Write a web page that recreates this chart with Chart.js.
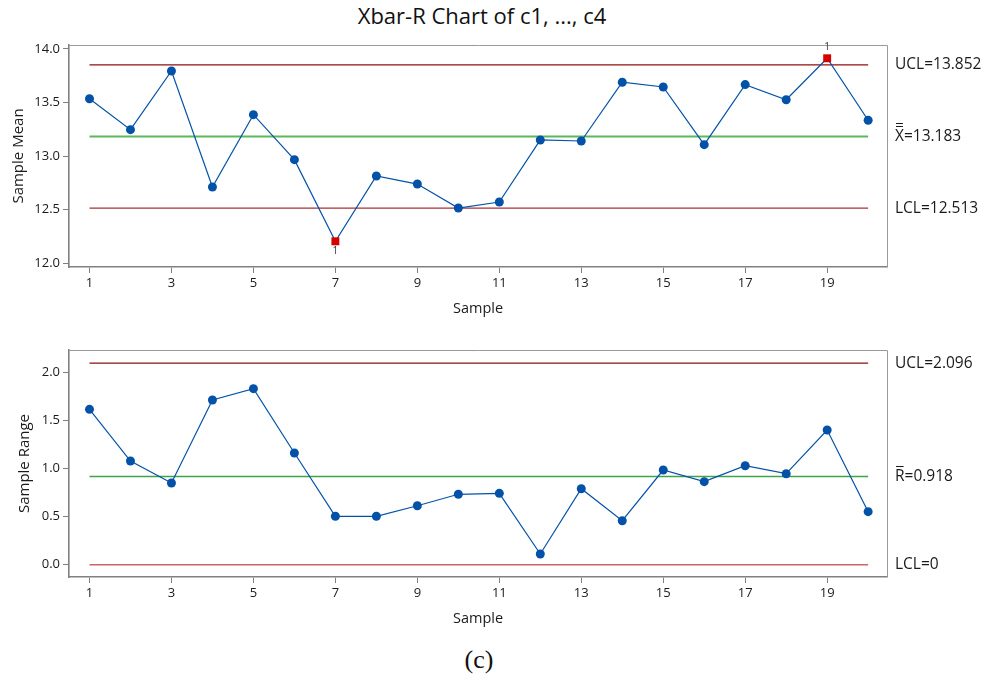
<!DOCTYPE html>
<html>
<head>
<meta charset="UTF-8">
<title>Xbar-R Chart of c1, ..., c4</title>
<script src="https://cdn.jsdelivr.net/npm/chart.js@4.4.1/dist/chart.umd.min.js"></script>
<style>
    html, body { margin: 0; padding: 0; background: #fff; }
    #page { position: relative; width: 988px; height: 684px; overflow: hidden; }
    #page canvas { position: absolute; left: 0; }
    #mainTitle {
        position: absolute; left: 0; width: 964px; top: 0px;
        text-align: center; font: 22px 'Open Sans', sans-serif; color: #111;
    }
    #caption {
        position: absolute; left: 0; width: 958px; top: 645px;
        text-align: center; font: 26px 'Liberation Serif', 'Times New Roman', serif; color: #111;
    }
</style>
</head>
<body>
<div id="page">
    <div id="mainTitle">Xbar-R Chart of c1, ..., c4</div>
    <canvas id="meanChart" width="988" height="330" style="top:0"></canvas>
    <canvas id="rangeChart" width="988" height="305" style="top:325px"></canvas>
    <div id="caption">(c)</div>
</div>
<script>
const SAMPLES = [1, 2, 3, 4, 5, 6, 7, 8, 9, 10, 11, 12, 13, 14, 15, 16, 17, 18, 19, 20];
const SAMPLE_TICKS = [1, 3, 5, 7, 9, 11, 13, 15, 17, 19];

const MEANS = [13.535, 13.246, 13.794, 12.710, 13.386, 12.966, 12.203, 12.813, 12.738, 12.514,
               12.570, 13.150, 13.140, 13.689, 13.645, 13.106, 13.667, 13.526, 13.913, 13.334];
const MEAN_TICKS = [12.0, 12.5, 13.0, 13.5, 14.0];
const MEAN_UCL = 13.852;
const MEAN_CL  = 13.183;
const MEAN_LCL = 12.513;
const MEAN_FLAGS = [7, 19];   // samples failing test 1

const RANGES = [1.615, 1.078, 0.849, 1.712, 1.830, 1.161, 0.503, 0.503, 0.613, 0.732,
                0.742, 0.111, 0.790, 0.457, 0.984, 0.863, 1.029, 0.946, 1.400, 0.551];
const RANGE_TICKS = [0.0, 0.5, 1.0, 1.5, 2.0];
const RANGE_UCL = 2.096;
const RANGE_CL  = 0.918;
const RANGE_LCL = 0;
const RANGE_FLAGS = [];

const FONT   = "'Open Sans', sans-serif";
const BLUE   = '#0452a8';
const FLAG   = '#d40000';
const AXIS   = '#808080';

function limitLine(value, color, width) {
    return {
        data: [{ x: SAMPLES[0], y: value }, { x: SAMPLES[SAMPLES.length - 1], y: value }],
        borderColor: color,
        borderWidth: width,
        pointRadius: 0,
        order: 2
    };
}

// frame, limit labels and the "1" flags next to failing points
const controlLabels = {
    id: 'controlLabels',
    afterDraw(chart, args, opts) {
        const { ctx, chartArea: a, scales: { x, y } } = chart;
        ctx.save();
        ctx.strokeStyle = '#9a9a9a';
        ctx.lineWidth = 1;
        ctx.beginPath();
        ctx.moveTo(a.left, a.top + 0.5);
        ctx.lineTo(a.right + 0.5, a.top + 0.5);
        ctx.lineTo(a.right + 0.5, a.bottom);
        ctx.stroke();

        ctx.fillStyle = '#1a1a1a';
        ctx.font = '15.5px ' + FONT;
        ctx.textBaseline = 'middle';
        ctx.textAlign = 'left';
        const lx = a.right + 8;

        const uy = y.getPixelForValue(opts.ucl);
        ctx.fillText('UCL=' + opts.ucl.toFixed(3), lx, uy);

        const cy = y.getPixelForValue(opts.cl);
        const sym = opts.symbol;
        const sw = ctx.measureText(sym).width;
        ctx.fillText(sym, lx, cy);
        ctx.fillText('=' + opts.cl.toFixed(3), lx + sw, cy);
        ctx.strokeStyle = '#1a1a1a';
        ctx.lineWidth = 1;
        ctx.beginPath();
        opts.bars.forEach(off => {
            ctx.moveTo(lx + 1, Math.round(cy - off) + 0.5);
            ctx.lineTo(lx + sw - 1, Math.round(cy - off) + 0.5);
        });
        ctx.stroke();

        const ly = y.getPixelForValue(opts.lcl);
        ctx.fillText('LCL=' + (opts.lcl === 0 ? '0' : opts.lcl.toFixed(3)), lx, ly);

        ctx.font = '10px ' + FONT;
        ctx.fillStyle = '#333';
        ctx.textAlign = 'center';
        opts.flags.forEach(s => {
            const v = opts.values[s - 1];
            const px = x.getPixelForValue(s);
            const py = y.getPixelForValue(v);
            const dy = v < opts.cl ? 10 : -11;
            ctx.fillText('1', px, py + dy);
        });
        ctx.restore();
    }
};

function buildChart(id, cfg) {
    const ctx = document.getElementById(id).getContext('2d');
    const flagged = i => cfg.flags.includes(SAMPLES[i]);

    return new Chart(ctx, {
        type: 'line',
        data: {
            datasets: [
                {
                    data: SAMPLES.map((s, i) => ({ x: s, y: cfg.values[i] })),
                    borderColor: BLUE,
                    borderWidth: 1.2,
                    pointStyle: c => flagged(c.dataIndex) ? 'rect' : 'circle',
                    pointRadius: c => flagged(c.dataIndex) ? 5.6 : 4.5,
                    pointBackgroundColor: c => flagged(c.dataIndex) ? FLAG : BLUE,
                    pointBorderColor: c => flagged(c.dataIndex) ? FLAG : BLUE,
                    pointBorderWidth: 0,
                    order: 1
                },
                limitLine(cfg.ucl, '#8e1010', 1.2),
                limitLine(cfg.cl, cfg.clColor, cfg.clWidth),
                limitLine(cfg.lcl, cfg.lclColor, cfg.lclWidth)
            ]
        },
        options: {
            responsive: false,
            animation: false,
            layout: { padding: { left: 0, top: cfg.top, right: 101, bottom: cfg.bottom } },
            plugins: {
                legend: { display: false },
                tooltip: { enabled: false },
                controlLabels: {
                    ucl: cfg.ucl, cl: cfg.cl, lcl: cfg.lcl,
                    symbol: cfg.symbol, bars: cfg.bars,
                    flags: cfg.flags, values: cfg.values
                }
            },
            scales: {
                x: {
                    type: 'linear',
                    min: 0.5,
                    max: 20.46,
                    afterBuildTicks: s => { s.ticks = SAMPLE_TICKS.map(v => ({ value: v })); },
                    afterFit: s => { s.height = 51; },
                    ticks: { color: '#1a1a1a', font: { family: FONT, size: 13 }, padding: 2, maxRotation: 0 },
                    grid: { drawOnChartArea: false, color: AXIS, tickLength: 6, lineWidth: 1 },
                    border: { color: AXIS, width: 1.6 },
                    title: { display: true, text: 'Sample', color: '#1a1a1a', font: { family: FONT, size: 14.5 }, padding: 0 }
                },
                y: {
                    min: cfg.min,
                    max: cfg.max,
                    afterBuildTicks: s => { s.ticks = cfg.ticks.map(v => ({ value: v })); },
                    afterFit: s => { s.width = 69; },
                    ticks: { color: '#1a1a1a', font: { family: FONT, size: 13 }, padding: 3, callback: v => v.toFixed(1) },
                    grid: { drawOnChartArea: false, color: AXIS, tickLength: 6, lineWidth: 1 },
                    border: { color: AXIS, width: 1.6 },
                    title: { display: true, text: cfg.yTitle, color: '#1a1a1a', font: { family: FONT, size: 15 }, padding: { top: cfg.yTitlePad } }
                }
            }
        },
        plugins: [controlLabels]
    });
}

buildChart('meanChart', {
    values: MEANS, flags: MEAN_FLAGS, ticks: MEAN_TICKS,
    min: 11.963, max: 14.037,
    ucl: MEAN_UCL, cl: MEAN_CL, lcl: MEAN_LCL,
    clColor: '#5cb85c', clWidth: 2, lclColor: '#a83030', lclWidth: 1.2,
    symbol: 'X', bars: [10.5, 13.5],
    yTitle: 'Sample Mean', yTitlePad: 10,
    top: 45, bottom: 12
});

buildChart('rangeChart', {
    values: RANGES, flags: RANGE_FLAGS, ticks: RANGE_TICKS,
    min: -0.128, max: 2.232,
    ucl: RANGE_UCL, cl: RANGE_CL, lcl: RANGE_LCL,
    clColor: '#3ea34a', clWidth: 1.5, lclColor: '#d06464', lclWidth: 1.5,
    symbol: 'R', bars: [10],
    yTitle: 'Sample Range', yTitlePad: 16,
    top: 25, bottom: 2
});
</script>
</body>
</html>
